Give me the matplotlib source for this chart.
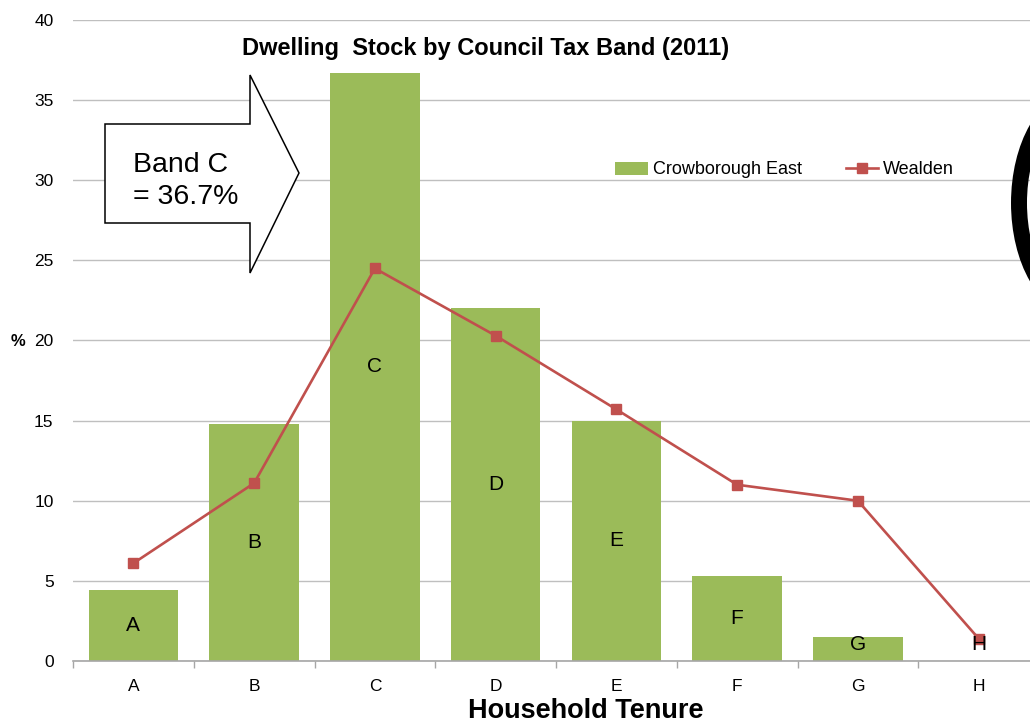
import matplotlib
matplotlib.use('Agg')
import matplotlib.pyplot as plt
from matplotlib.patches import Polygon, Ellipse

plt.rcParams['font.family'] = ['Liberation Sans', 'DejaVu Sans']

# Datos
bandas = ['A', 'B', 'C', 'D', 'E', 'F', 'G', 'H']
crowborough_east = [4.4, 14.8, 36.7, 22.0, 15.0, 5.3, 1.5, 0.0]
wealden = [6.1, 11.1, 24.5, 20.3, 15.7, 11.0, 10.0, 1.4]

verde = '#9BBB59'
rojo = '#C0504D'

fig = plt.figure(figsize=(10.3, 7.24), dpi=100)

# Pixeles -> fraccion de figura
W, H = 1030.0, 724.0
ax = fig.add_axes([73 / W, (H - 661) / H, (1039 - 73) / W, (661 - 20) / H])

x = list(range(len(bandas)))

barras = ax.bar(x, crowborough_east, width=0.74, color=verde, label='Crowborough East', zorder=2)
linea, = ax.plot(x, wealden, color=rojo, linewidth=1.9, marker='s', markersize=7,
                 label='Wealden', zorder=3)

# Letras dentro de las barras
for xi, v, b in zip(x, crowborough_east, bandas):
    ax.text(xi, max(v / 2.0, 1.05), b, ha='center', va='center', fontsize=15, zorder=4)

ax.set_xlim(-0.5, len(bandas) - 0.5)
ax.set_ylim(0, 40)
ax.set_yticks(range(0, 41, 5))
ax.set_xticks(x)
ax.set_xticklabels(bandas)
ax.set_xticks([i - 0.5 for i in x], minor=True)

ax.grid(axis='y', color='#BFBFBF', linewidth=1.0, zorder=0)
ax.set_axisbelow(True)
for s in ['left', 'right', 'top']:
    ax.spines[s].set_visible(False)
ax.spines['bottom'].set_color('#A6A6A6')
ax.spines['bottom'].set_linewidth(1.2)

ax.tick_params(axis='y', length=0, labelsize=12.5, pad=14)
ax.tick_params(axis='x', which='major', length=0, labelsize=12.5, pad=13)
ax.tick_params(axis='x', which='minor', length=5, color='#A6A6A6', width=1.0)

# Etiquetas
fig.text(18 / W, 1 - 341 / H, '%', fontsize=12, fontweight='bold', ha='center', va='center')
fig.text(586 / W, 1 - 711 / H, 'Household Tenure', fontsize=19.5, fontweight='bold',
         ha='center', va='center')
fig.text(486 / W, 1 - 48 / H, 'Dwelling  Stock by Council Tax Band (2011)', fontsize=17,
         fontweight='bold', ha='center', va='center')

ax.legend([barras, linea], ['Crowborough East', 'Wealden'],
          loc='center left', bbox_to_anchor=(526 / 966, (661 - 170) / 641), ncol=2,
          frameon=False, fontsize=13, handlelength=1.8, handletextpad=0.3,
          columnspacing=2.4)

# Flecha "Band C"
pts = [(105, 124), (250, 124), (250, 75), (299, 173), (250, 273), (250, 223), (105, 223)]
flecha = Polygon([(px / W, 1 - py / H) for px, py in pts], closed=True,
                 transform=fig.transFigure, facecolor='white', edgecolor='black',
                 linewidth=1.1, zorder=5)
fig.patches.append(flecha)
fig.text(133 / W, 1 - 181 / H, 'Band C\n= 36.7%', fontsize=20.5, ha='left', va='center',
         linespacing=1.3, zorder=6)

# Trazo negro a la derecha
arco = Ellipse((1080 / W, 1 - 203 / H), 122 / W, 210 / H, transform=fig.transFigure,
               facecolor='none', edgecolor='black', linewidth=11.5, zorder=6)
fig.patches.append(arco)

fig.savefig('out.png', dpi=100)
